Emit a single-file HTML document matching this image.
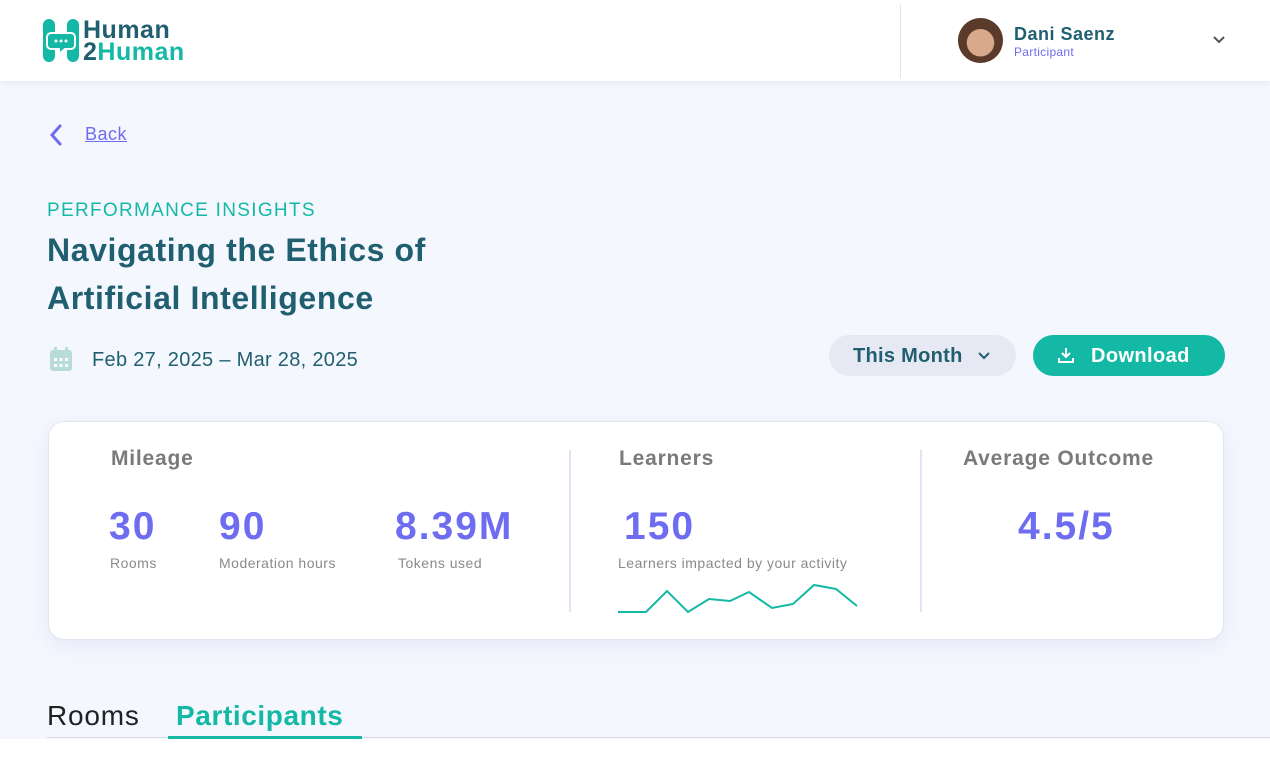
<!DOCTYPE html>
<html><head><style>
*{margin:0;padding:0;box-sizing:border-box}
body{width:1270px;height:760px;overflow:hidden;background:#f5f7fe;font-family:"Liberation Sans",sans-serif;position:relative}
.hdr{position:absolute;left:0;top:0;width:1270px;height:81px;background:#fff;box-shadow:0 2px 8px rgba(0,0,0,.06)}
.a{position:absolute;white-space:nowrap}
.card{position:absolute;left:48px;top:421px;width:1176px;height:219px;background:#fff;border:1px solid #e3e6f0;border-radius:16px;box-shadow:0 6px 20px rgba(120,130,200,.12)}
.num{color:#6e6cf0;font-weight:bold;font-size:39px;letter-spacing:2px}
.lab{color:#8a8a8a;font-size:14px;letter-spacing:0.5px}
.ttl{color:#7a7a7a;font-weight:bold;font-size:21px;letter-spacing:0.8px}
</style></head><body>
<div class="hdr"></div>
<svg class="a" style="left:43px;top:19px" width="36" height="43" viewBox="0 0 36 43">
<rect x="0" y="0" width="12" height="43" rx="6" fill="#13b9a5"/><rect x="24" y="0" width="12" height="43" rx="6" fill="#13b9a5"/>
<path d="M8 14 h20 a4 4 0 0 1 4 4 v8 a4 4 0 0 1-4 4 h-6 l-6 5 v-5 h-8 a4 4 0 0 1-4-4 v-8 a4 4 0 0 1 4-4z" fill="#13b9a5" stroke="#fff" stroke-width="2"/>
<circle cx="13" cy="22" r="1.5" fill="#fff"/><circle cx="18" cy="22" r="1.5" fill="#fff"/><circle cx="23" cy="22" r="1.5" fill="#fff"/></svg>
<div class="a" style="left:83px;top:19px;font-weight:bold;font-size:25px;line-height:22px;color:#1f5f6f;letter-spacing:0.5px">Human<br><span style="color:#13b9a5"><span style="color:#1f5f6f">2</span>Human</span></div>
<div class="a" style="left:900px;top:4px;width:1px;height:74px;background:#e6e6e6"></div>
<div class="a" style="left:958px;top:18px;width:45px;height:45px;border-radius:50%;background:radial-gradient(circle at 50% 55%,#d9a98c 0 40%,#5a3a2a 42%)"></div>
<div class="a" style="left:1014px;top:24px;font-weight:bold;font-size:18px;color:#1f5f6f;letter-spacing:0.5px">Dani Saenz</div>
<div class="a" style="left:1014px;top:45px;font-size:12px;color:#6e6cf0;letter-spacing:0.3px">Participant</div>
<svg class="a" style="left:1212px;top:35px" width="14" height="10"><path d="M2 2 L7 7 L12 2" fill="none" stroke="#555" stroke-width="2"/></svg>
<svg class="a" style="left:48px;top:124px" width="16" height="22"><path d="M12 2 L4 11 L12 20" fill="none" stroke="#6e6cf0" stroke-width="3" stroke-linecap="round"/></svg>
<div class="a" style="left:85px;top:124px;font-size:18px;color:#6e6cf0;text-decoration:underline;letter-spacing:0.5px">Back</div>
<div class="a" style="left:47px;top:200px;font-size:19px;color:#13b9a5;letter-spacing:1.3px">PERFORMANCE INSIGHTS</div>
<div class="a" style="left:47px;top:226px;font-size:32px;font-weight:bold;color:#1f5f6f;line-height:48px;letter-spacing:0.6px">Navigating the Ethics of<br>Artificial Intelligence</div>
<svg class="a" style="left:49px;top:347px" width="24" height="25"><rect x="1" y="3" width="22" height="21" rx="3" fill="#b9dcd9"/><rect x="5" y="0" width="3" height="6" fill="#b9dcd9"/><rect x="16" y="0" width="3" height="6" fill="#b9dcd9"/><g fill="#fff"><rect x="5" y="11" width="3" height="3"/><rect x="10.5" y="11" width="3" height="3"/><rect x="16" y="11" width="3" height="3"/><rect x="5" y="17" width="3" height="3"/><rect x="10.5" y="17" width="3" height="3"/><rect x="16" y="17" width="3" height="3"/></g></svg>
<div class="a" style="left:92px;top:349px;font-size:20px;color:#1f5f6f;letter-spacing:0.3px">Feb 27, 2025 – Mar 28, 2025</div>
<div class="a" style="left:829px;top:335px;width:187px;height:41px;border-radius:21px;background:#e6e9f4"></div>
<div class="a" style="left:853px;top:345px;font-size:20px;font-weight:bold;color:#1f5f6f;letter-spacing:0.3px">This Month</div>
<svg class="a" style="left:977px;top:351px" width="14" height="10"><path d="M2 2 L7 7 L12 2" fill="none" stroke="#1f5f6f" stroke-width="2"/></svg>
<div class="a" style="left:1033px;top:335px;width:192px;height:41px;border-radius:21px;background:#13b9a5"></div>
<svg class="a" style="left:1057px;top:346px" width="18" height="18"><path d="M9 2 V11 M5 7 L9 11 L13 7 M2 12 V16 H16 V12" fill="none" stroke="#fff" stroke-width="2"/></svg>
<div class="a" style="left:1091px;top:345px;font-size:20px;font-weight:bold;color:#fff;letter-spacing:0.4px">Download</div>
<div class="card"></div>
<div class="a ttl" style="left:111px;top:447px">Mileage</div>
<div class="a ttl" style="left:619px;top:447px">Learners</div>
<div class="a ttl" style="left:963px;top:447px">Average Outcome</div>
<div class="a" style="left:569px;top:450px;width:2px;height:162px;background:#e3e3f3"></div>
<div class="a" style="left:920px;top:450px;width:2px;height:162px;background:#e3e3f3"></div>
<div class="a num" style="left:109px;top:505px">30</div>
<div class="a num" style="left:219px;top:505px">90</div>
<div class="a num" style="left:395px;top:505px">8.39M</div>
<div class="a num" style="left:624px;top:505px">150</div>
<div class="a num" style="left:1018px;top:505px">4.5/5</div>
<div class="a lab" style="left:110px;top:555px">Rooms</div>
<div class="a lab" style="left:219px;top:555px">Moderation hours</div>
<div class="a lab" style="left:398px;top:555px">Tokens used</div>
<div class="a lab" style="left:618px;top:555px">Learners impacted by your activity</div>
<svg class="a" style="left:0;top:0" width="1270" height="760"><polyline points="618,612 646,612 667,591 688,612 709,599 730,601 749,592 772,608 793,604 814,585 836,589 857,606" fill="none" stroke="#13b9a5" stroke-width="2"/></svg>
<div class="a" style="left:47px;top:700px;font-size:28px;color:#222;letter-spacing:0.8px">Rooms</div>
<div class="a" style="left:176px;top:700px;font-size:28px;font-weight:bold;color:#13b9a5;letter-spacing:0.6px">Participants</div>
<div class="a" style="left:47px;top:737px;width:1223px;height:1px;background:#dcdcdc"></div>
<div class="a" style="left:168px;top:736px;width:194px;height:3px;background:#13b9a5"></div>
<div class="a" style="left:0;top:739px;width:1270px;height:21px;background:#fff"></div>
</body></html>
